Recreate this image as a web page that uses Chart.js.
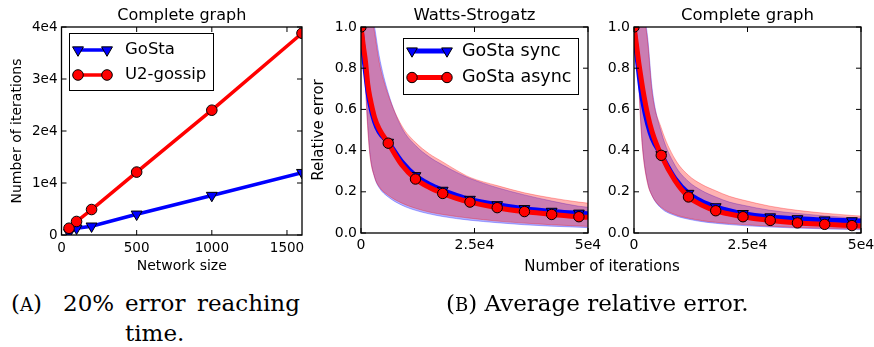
<!DOCTYPE html>
<html>
<head>
<meta charset="utf-8">
<script src="https://cdn.jsdelivr.net/npm/chart.js@4.4.0/dist/chart.umd.min.js"></script>
<style>
  body { margin: 0; background: #fff; width: 874px; height: 347px; overflow: hidden; position: relative; }
  canvas { position: absolute; top: 0; }
  .cap { position: absolute; font-family: "DejaVu Serif"; font-size: 23px; line-height: 1; white-space: nowrap; color: #000; }
  .sc { font-size: 18px; }
  .axt { position: absolute; font-family: "DejaVu Sans"; font-size: 15px; line-height: 18px; text-align: center; color: #000; }
</style>
</head>
<body>
<canvas id="chartA" width="330" height="280" style="left:0px"></canvas>
<canvas id="chartB" width="320" height="280" style="left:300px"></canvas>
<canvas id="chartC" width="310" height="280" style="left:590px"></canvas>
<div class="axt" style="left:502px; top:257px; width:200px">Number of iterations</div>

<span class="cap" style="left:11px; top:292px">(<span class="sc">A</span>)</span>
<span class="cap" style="left:63px; top:292px">20%</span>
<span class="cap" style="left:125px; top:292px">error</span>
<span class="cap" style="left:197px; top:292px">reaching</span>
<span class="cap" style="left:125px; top:322px">time.</span>
<span class="cap" style="left:446px; top:292px">(<span class="sc">B</span>) Average relative error.</span>

<script>
// (A) iterations needed to reach 20% error
const networkSizes = [50, 100, 200, 500, 1000, 1600];
const gostaIters = [450, 1300, 1700, 4000, 7600, 12000];
const u2gossipIters = [1300, 2600, 4900, 12100, 24000, 38800];
const sizeTicks = [0, 500, 1000, 1500];
const sizeTickLabels = ['0', '500', '1000', '1500'];
const countTicks = [0, 10000, 20000, 30000, 40000];
const countTickLabels = ['0', '1e4', '2e4', '3e4', '4e4'];

// (B) average relative error vs iterations
const iterGrid = [0, 500, 1000, 1500, 2000, 3000, 4000, 6000, 9000, 12000, 15000, 18000, 21000, 24000, 30000, 36000, 42000, 48000, 50000];
const markerIters = [0, 6000, 12000, 18000, 24000, 30000, 36000, 42000, 48000];
const iterTicks = [0, 25000, 50000];
const iterTickLabels = ['0', '2.5e4', '5e4'];
const errTicks = [0, 0.2, 0.4, 0.6, 0.8, 1.0];
const errTickLabels = ['0.0', '0.2', '0.4', '0.6', '0.8', '1.0'];

// Watts-Strogatz
const wsSync    = [1.0, 0.88, 0.78, 0.69, 0.625, 0.54, 0.49, 0.44, 0.345, 0.278, 0.237, 0.207, 0.183, 0.163, 0.137, 0.118, 0.105, 0.096, 0.093];
const wsSyncLo  = [1.0, 0.95, 0.72, 0.52, 0.38, 0.27, 0.22, 0.175, 0.135, 0.11, 0.093, 0.08, 0.07, 0.062, 0.05, 0.04, 0.033, 0.028, 0.026];
const wsSyncHi  = [1.0, 1.15, 1.2, 1.18, 1.13, 1.0, 0.86, 0.68, 0.51, 0.425, 0.37, 0.33, 0.295, 0.265, 0.22, 0.185, 0.155, 0.13, 0.125];
const wsAsync   = [1.0, 0.91, 0.83, 0.72, 0.655, 0.56, 0.505, 0.436, 0.33, 0.262, 0.222, 0.192, 0.168, 0.15, 0.123, 0.104, 0.09, 0.079, 0.076];
const wsAsyncLo = [1.0, 0.93, 0.70, 0.50, 0.37, 0.27, 0.225, 0.183, 0.145, 0.12, 0.102, 0.09, 0.08, 0.072, 0.058, 0.048, 0.04, 0.034, 0.032];
const wsAsyncHi = [1.0, 1.12, 1.18, 1.15, 1.1, 0.97, 0.83, 0.67, 0.52, 0.44, 0.385, 0.345, 0.305, 0.27, 0.23, 0.195, 0.17, 0.15, 0.145];

// Complete graph
const cgSync    = [1.0, 0.89, 0.79, 0.70, 0.63, 0.53, 0.46, 0.38, 0.265, 0.192, 0.152, 0.127, 0.108, 0.094, 0.078, 0.069, 0.063, 0.059, 0.058];
const cgSyncLo  = [1.0, 0.94, 0.76, 0.54, 0.39, 0.245, 0.18, 0.12, 0.085, 0.067, 0.055, 0.047, 0.041, 0.036, 0.029, 0.024, 0.02, 0.017, 0.016];
const cgSyncHi  = [1.0, 1.18, 1.22, 1.18, 1.1, 0.95, 0.70, 0.49, 0.33, 0.25, 0.205, 0.175, 0.15, 0.135, 0.11, 0.095, 0.083, 0.074, 0.072];
const cgAsync   = [1.0, 0.92, 0.835, 0.76, 0.69, 0.575, 0.49, 0.377, 0.255, 0.175, 0.135, 0.108, 0.092, 0.079, 0.061, 0.049, 0.042, 0.036, 0.034];
const cgAsyncLo = [1.0, 0.92, 0.74, 0.52, 0.38, 0.24, 0.18, 0.125, 0.09, 0.072, 0.06, 0.052, 0.046, 0.041, 0.033, 0.027, 0.023, 0.02, 0.019];
const cgAsyncHi = [1.0, 1.15, 1.2, 1.15, 1.08, 0.93, 0.68, 0.51, 0.36, 0.28, 0.235, 0.205, 0.178, 0.16, 0.13, 0.11, 0.096, 0.085, 0.082];

const RED = 'rgb(255,0,0)';
const BLUE = 'rgb(0,0,255)';
const RED_BAND = 'rgba(255,0,0,0.3)';
const BLUE_BAND = 'rgba(0,0,255,0.3)';
const FONT = 'DejaVu Sans';

function pts(xs, ys) {
    return xs.map((x, i) => ({ x: x, y: ys[i] }));
}

// only put markers at every 6000 iterations
function markerRadius(r) {
    return ctx => markerIters.includes(iterGrid[ctx.dataIndex]) ? r : 0;
}

// box, inward ticks, title and legend, matplotlib style
const frame = {
    id: 'frame',
    afterDatasetsDraw(chart, args, o) {
        const ctx = chart.ctx;
        const a = chart.chartArea;
        const sx = chart.scales.x, sy = chart.scales.y;
        ctx.save();
        ctx.strokeStyle = '#000';
        ctx.lineWidth = 1;
        ctx.beginPath();
        sx.ticks.forEach(t => {
            const px = sx.getPixelForValue(t.value);
            ctx.moveTo(px, a.bottom); ctx.lineTo(px, a.bottom - 5);
            ctx.moveTo(px, a.top); ctx.lineTo(px, a.top + 5);
        });
        sy.ticks.forEach(t => {
            const py = sy.getPixelForValue(t.value);
            ctx.moveTo(a.left, py); ctx.lineTo(a.left + 5, py);
            ctx.moveTo(a.right, py); ctx.lineTo(a.right - 5, py);
        });
        ctx.stroke();
        ctx.lineWidth = 1.3;
        ctx.strokeRect(a.left, a.top, a.right - a.left, a.bottom - a.top);

        ctx.fillStyle = '#000';
        ctx.font = o.titleSize + 'px "' + FONT + '"';
        ctx.textAlign = 'center';
        ctx.textBaseline = 'alphabetic';
        ctx.fillText(o.title, (a.left + a.right) / 2, o.titleY);

        if (o.legend) {
            const L = o.legend;
            ctx.fillStyle = '#fff';
            ctx.fillRect(L.box[0], L.box[1], L.box[2], L.box[3]);
            ctx.lineWidth = 1;
            ctx.strokeRect(L.box[0], L.box[1], L.box[2], L.box[3]);
            L.items.forEach((idx, k) => {
                const ds = chart.data.datasets[idx];
                const y = L.rows[k];
                ctx.strokeStyle = ds.borderColor;
                ctx.lineWidth = ds.borderWidth;
                ctx.beginPath();
                ctx.moveTo(L.line[0], y); ctx.lineTo(L.line[1], y);
                ctx.stroke();
                [L.line[0], L.line[1]].forEach(x => {
                    ctx.fillStyle = ds.pointBackgroundColor;
                    ctx.strokeStyle = '#000';
                    ctx.lineWidth = 1;
                    Chart.helpers.drawPoint(ctx, {
                        pointStyle: ds.pointStyle,
                        rotation: ds.pointRotation || 0,
                        radius: L.radius[k],
                        borderWidth: 1
                    }, x, y);
                });
                ctx.fillStyle = '#000';
                ctx.font = L.size + 'px "' + FONT + '"';
                ctx.textAlign = 'left';
                ctx.textBaseline = 'middle';
                ctx.fillText(ds.label, L.textX, y);
            });
        }
        ctx.restore();
    }
};

function axis(opts) {
    return {
        type: 'linear',
        min: opts.min,
        max: opts.max,
        afterBuildTicks: s => { s.ticks = opts.ticks.map(v => ({ value: v })); },
        afterFit: s => { if (opts.width) s.width = opts.width; if (opts.height) s.height = opts.height; },
        ticks: {
            callback: (v, i) => opts.labels[i],
            font: { family: FONT, size: opts.tickSize },
            color: '#000',
            padding: opts.pad,
            maxRotation: 0,
            autoSkip: false
        },
        grid: { display: false, drawTicks: false },
        border: { display: false },
        title: opts.title ? {
            display: true,
            text: opts.title,
            color: '#000',
            font: { family: FONT, size: opts.titleSize },
            padding: opts.titlePad
        } : { display: false }
    };
}

function baseOptions(pad, scales, frameOpts) {
    return {
        responsive: false,
        animation: false,
        layout: { padding: pad },
        scales: scales,
        plugins: {
            legend: { display: false },
            tooltip: { enabled: false },
            frame: frameOpts
        }
    };
}

// ---------- (A) ----------
new Chart(document.getElementById('chartA'), {
    type: 'line',
    data: {
        datasets: [
            {
                label: 'U2-gossip',
                data: pts(networkSizes, u2gossipIters),
                borderColor: RED, borderWidth: 3.5,
                pointStyle: 'circle', pointRadius: 5.3,
                pointBackgroundColor: RED, pointBorderColor: '#000', pointBorderWidth: 1,
                fill: false, tension: 0, order: 1
            },
            {
                label: 'GoSta',
                data: pts(networkSizes, gostaIters),
                borderColor: BLUE, borderWidth: 3.5,
                pointStyle: 'triangle', pointRotation: 180, pointRadius: 6.3,
                pointBackgroundColor: BLUE, pointBorderColor: '#000', pointBorderWidth: 1,
                fill: false, tension: 0, order: 2
            }
        ]
    },
    options: baseOptions(
        { left: 0, top: 27, right: 28, bottom: 0 },
        {
            x: axis({ min: 0, max: 1600, ticks: sizeTicks, labels: sizeTickLabels, height: 45, tickSize: 13.5, pad: 5,
                      title: 'Network size', titleSize: 14, titlePad: { top: 0, bottom: 5 } }),
            y: axis({ min: 0, max: 40000, ticks: countTicks, labels: countTickLabels, width: 61.5, tickSize: 13.5, pad: 4,
                      title: 'Number of iterations', titleSize: 14, titlePad: { top: 9.4, bottom: 0 } })
        },
        {
            title: 'Complete graph', titleSize: 16, titleY: 20,
            legend: { box: [69.5, 33.5, 144, 57], line: [78, 107], rows: [50, 75], radius: [6.3, 5.3], textX: 125, size: 16.5, items: [1, 0] }
        }
    ),
    plugins: [frame]
});

// ---------- (B) helpers ----------
function errorDatasets(sync, syncLo, syncHi, async, asyncLo, asyncHi) {
    const band = (ys, color, fill, order) => ({
        data: pts(iterGrid, ys),
        borderColor: color, backgroundColor: color, borderWidth: 1,
        pointRadius: 0, fill: fill, cubicInterpolationMode: 'monotone', order: order
    });
    return [
        {
            label: 'GoSta async',
            data: pts(iterGrid, async),
            borderColor: RED, borderWidth: 5,
            pointStyle: 'circle', pointRadius: markerRadius(5.2),
            pointBackgroundColor: RED, pointBorderColor: '#000', pointBorderWidth: 1,
            fill: false, cubicInterpolationMode: 'monotone', order: 1
        },
        {
            label: 'GoSta sync',
            data: pts(iterGrid, sync),
            borderColor: BLUE, borderWidth: 5,
            pointStyle: 'triangle', pointRotation: 180, pointRadius: markerRadius(6.2),
            pointBackgroundColor: BLUE, pointBorderColor: '#000', pointBorderWidth: 1,
            fill: false, cubicInterpolationMode: 'monotone', order: 2
        },
        band(asyncHi, RED_BAND, '+1', 3),
        band(asyncLo, RED_BAND, false, 3),
        band(syncHi, BLUE_BAND, '+1', 4),
        band(syncLo, BLUE_BAND, false, 4)
    ];
}

// ---------- (B) Watts-Strogatz ----------
new Chart(document.getElementById('chartB'), {
    type: 'line',
    data: { datasets: errorDatasets(wsSync, wsSyncLo, wsSyncHi, wsAsync, wsAsyncLo, wsAsyncHi) },
    options: baseOptions(
        { left: 0, top: 27, right: 32, bottom: 0 },
        {
            x: axis({ min: 0, max: 50000, ticks: iterTicks, labels: iterTickLabels, height: 47, tickSize: 14, pad: 4 }),
            y: axis({ min: 0, max: 1, ticks: errTicks, labels: errTickLabels, width: 61, tickSize: 14, pad: 4,
                      title: 'Relative error', titleSize: 15, titlePad: { top: 10, bottom: 0 } })
        },
        {
            title: 'Watts-Strogatz', titleSize: 16.5, titleY: 19.5,
            legend: { box: [103.5, 38.5, 175, 56], line: [112, 147], rows: [51, 77.5], radius: [6.2, 5.2], textX: 162, size: 17.5, items: [1, 0] }
        }
    ),
    plugins: [frame]
});

// ---------- (B) Complete graph ----------
new Chart(document.getElementById('chartC'), {
    type: 'line',
    data: { datasets: errorDatasets(cgSync, cgSyncLo, cgSyncHi, cgAsync, cgAsyncLo, cgAsyncHi) },
    options: baseOptions(
        { left: 0, top: 27, right: 39, bottom: 0 },
        {
            x: axis({ min: 0, max: 50000, ticks: iterTicks, labels: iterTickLabels, height: 47, tickSize: 14, pad: 4 }),
            y: axis({ min: 0, max: 1, ticks: errTicks, labels: errTickLabels, width: 44, tickSize: 14, pad: 4 })
        },
        { title: 'Complete graph', titleSize: 16.5, titleY: 19.5 }
    ),
    plugins: [frame]
});
</script>
</body>
</html>
